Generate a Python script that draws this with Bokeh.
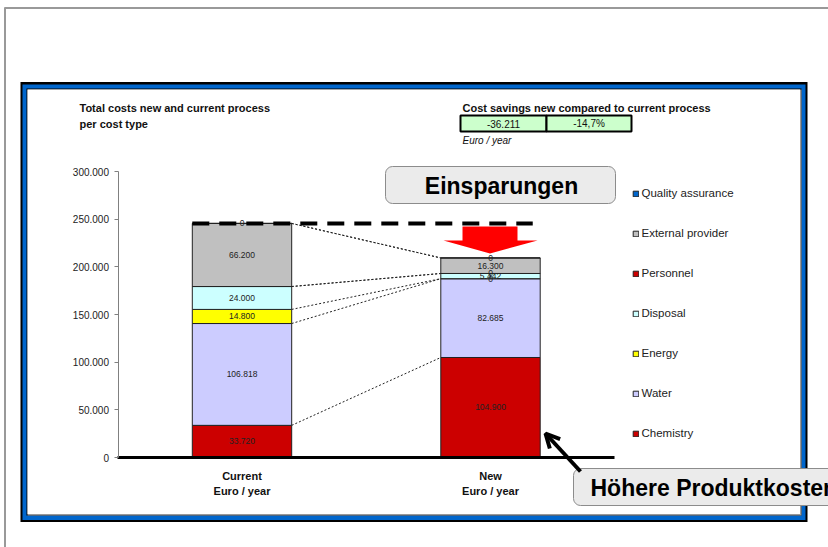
from bokeh.plotting import figure
from bokeh.models import (Range1d, LinearAxis, FixedTicker, Legend, LegendItem,
                          ColumnDataSource, Arrow, OpenHead)
from bokeh.core.properties import value
from bokeh.embed import file_html
from bokeh.resources import INLINE

# ---------------- data ----------------
categories = ["Current", "New"]
category_unit = "Euro / year"
series = ["Chemistry", "Water", "Energy", "Disposal", "Personnel",
          "External provider", "Quality assurance"]
colors = ["#CC0000", "#CCCCFF", "#FFFF00", "#CCFFFF", "#CC0000", "#C0C0C0", "#0066CC"]
current_values = [33720, 106818, 14800, 24000, None, 66200, 0]
new_values = [104900, 82685, 0, 5442, 0, 16300, 0]
y_ticks = [0, 50000, 100000, 150000, 200000, 250000, 300000]
y_tick_labels = ["0", "50.000", "100.000", "150.000", "200.000", "250.000", "300.000"]
chart_title = ["Total costs new and current process", "per cost type"]
savings_title = "Cost savings new compared to current process"
savings_unit = "Euro / year"
callout_savings = "Einsparungen"
callout_costs = "Höhere Produktkosten"

FONT = "Liberation Sans"

# ---------------- layout (picture pixel coordinates) ----------------
W, H = 828, 547
X0, Y0 = 0, 0
BASE_PX, TOP_PX = 457.0, 171.0           # pixel rows of 0 and 300.000
per_px = y_ticks[-1] / (BASE_PX - TOP_PX)
CUR_PX, STEP_PX = 241.5, 248.5           # centre of first bar, distance between bars

p = figure(width=W, height=H, output_backend="svg", toolbar_location=None,
           x_range=Range1d(X0, X0 + W),
           y_range=Range1d(-(Y0 + H - BASE_PX) * per_px, (BASE_PX - Y0) * per_px),
           x_axis_type=None, y_axis_type=None, min_border=0,
           outline_line_color=None, background_fill_color="white",
           border_fill_color="white")
p.extra_y_ranges = {"px": Range1d(Y0 + H, Y0)}
p.extra_x_ranges = {"bars": Range1d((X0 - CUR_PX) / STEP_PX, (X0 + W - CUR_PX) / STEP_PX)}

# outer grey page frame
p.segment(x0=[4.5, 4], y0=[7, 7.5], x1=[4.5, 828], y1=[547, 7.5],
          line_color="#999999", line_width=2, y_range_name="px")

# blue chart frame
p.quad(left=20, right=807, top=81.5, bottom=521.5, fill_color="black", line_color=None, y_range_name="px")
p.quad(left=22, right=805, top=84, bottom=519.5, fill_color="#0066CC", line_color=None, y_range_name="px")
p.quad(left=26, right=801, top=88, bottom=515, fill_color="black", line_color=None, y_range_name="px")
p.quad(left=27, right=801, top=89, bottom=515, fill_color="#999999", line_color=None, y_range_name="px")
p.quad(left=27, right=799.5, top=89, bottom=513.5, fill_color="white", line_color=None, y_range_name="px")

# titles
p.text(x=[79, 79], y=[107, 123], text=chart_title, text_font=value(FONT),
       text_font_size="11px", text_font_style="bold", text_baseline="middle",
       text_color="#111111", y_range_name="px")
p.text(x=[462], y=[107], text=[savings_title], text_font=value(FONT),
       text_font_size="11px", text_font_style="bold", text_baseline="middle",
       text_color="#111111", y_range_name="px")

# savings boxes
total_current = sum(v or 0 for v in current_values)
total_new = sum(v or 0 for v in new_values)
savings = total_new - total_current
pct = savings / total_current * 100
savings_txt = f"{savings:,}".replace(",", ".")
pct_txt = ("-" if pct < 0 else "") + f"{int(abs(pct) * 10) / 10:.1f}".replace(".", ",") + "%"
p.quad(left=[460, 546], right=[546, 631], top=[115, 115], bottom=[131, 131],
       fill_color="#CCFFCC", line_color="black", line_width=2, y_range_name="px")
p.text(x=[503, 588.5], y=[123, 123], text=[savings_txt, pct_txt], text_font=value(FONT),
       text_font_size="10px", text_align="center", text_baseline="middle",
       text_color="#111111", y_range_name="px")
p.text(x=[462], y=[140], text=[savings_unit], text_font=value(FONT),
       text_font_size="10px", text_font_style="italic", text_baseline="middle",
       text_color="#111111", y_range_name="px")

# stacked bars
cols = {"x": list(range(len(categories)))}
for i, s in enumerate(series):
    cols[s] = [current_values[i] or 0, new_values[i] or 0]
src = ColumnDataSource(cols)
renderers = p.vbar_stack(series, x="x", width=0.4, source=src, x_range_name="bars",
                         fill_color=colors, line_color="#222222", line_width=1)

# series connector lines and labels
lx, ly, lt = [], [], []
cum_cur, cum_new = 0, 0
tops_cur, tops_new = [], []
for i, s in enumerate(series):
    vc, vn = current_values[i], new_values[i]
    if vc is not None:
        lx.append(0); ly.append(cum_cur + vc / 2); lt.append(f"{vc:,}".replace(",", "."))
    if vn is not None:
        lx.append(1); ly.append(cum_new + vn / 2); lt.append(f"{vn:,}".replace(",", "."))
    cum_cur += vc or 0
    cum_new += vn or 0
    tops_cur.append(cum_cur)
    tops_new.append(cum_new)

p.segment(x0=[0.2] * len(series), y0=tops_cur, x1=[0.8] * len(series), y1=tops_new,
          x_range_name="bars", line_color="#222222", line_width=1, line_dash="2 2")

# dashed reference line at current total
p.line(x=[-0.2, 1.17], y=[total_current, total_current], x_range_name="bars",
       line_color="black", line_width=4, line_dash="17 10")

p.text(x=lx, y=ly, text=lt, x_range_name="bars", text_font=value(FONT),
       text_font_size="8.5px", text_align="center", text_baseline="middle",
       text_color="#222222")

# red savings arrow
p.patch(x=[462, 517, 517, 537, 489.5, 443, 462], y=[226, 226, 240, 240, 253, 240, 240],
        fill_color="#FF0000", line_color=None, y_range_name="px")

# callout boxes
p.quad(left=[385, 573], right=[615, 900], top=[166, 468], bottom=[203, 505],
       border_radius=7, fill_color="#EBEBEB", line_color="#8C8C8C", line_width=1,
       y_range_name="px")
p.text(x=[501], y=[185], text=[callout_savings], text_font=value(FONT),
       text_font_size="23px", text_font_style="bold", text_align="center",
       text_baseline="middle", text_color="black", y_range_name="px")
p.text(x=[590], y=[487], text=[callout_costs], text_font=value(FONT),
       text_font_size="23px", text_font_style="bold", text_align="left",
       text_baseline="middle", text_color="black", y_range_name="px")
p.add_layout(Arrow(x_start=580, y_start=471, x_end=545, y_end=433, line_width=4,
                   line_color="black", y_range_name="px",
                   end=OpenHead(size=14, line_width=4, line_color="black")))

# axes
yaxis = LinearAxis(fixed_location=117.5, ticker=FixedTicker(ticks=y_ticks),
                   major_label_overrides=dict(zip(y_ticks, y_tick_labels)),
                   bounds=(y_ticks[0], y_ticks[-1]),
                   axis_line_color="#808080", major_tick_line_color="#808080",
                   major_tick_out=4, major_tick_in=0, minor_tick_line_color=None,
                   major_label_standoff=5, major_label_text_font=FONT,
                   major_label_text_font_size="10px", major_label_text_color="#222222")
p.add_layout(yaxis, "left")

xaxis = LinearAxis(x_range_name="bars", fixed_location=0,
                   ticker=FixedTicker(ticks=list(range(len(categories)))),
                   major_label_overrides={i: f"{c}\n{category_unit}" for i, c in enumerate(categories)},
                   bounds=(-0.5, len(categories) - 0.5),
                   axis_line_color="black", axis_line_width=3,
                   major_tick_line_color=None, minor_tick_line_color=None,
                   major_label_standoff=6, major_label_text_font=FONT,
                   major_label_text_font_size="11px", major_label_text_font_style="bold",
                   major_label_text_color="#111111", major_label_text_line_height=1.3)
p.add_layout(xaxis, "below")

# legend (located by its bottom-left corner, measured from the frame's bottom-left)
LEG_TOP, LEG_ITEM, LEG_GAP = 183.0, 20, 20
leg_height = len(series) * LEG_ITEM + (len(series) - 1) * LEG_GAP
items = [LegendItem(label=s, renderers=[r]) for s, r in zip(series, renderers)][::-1]
legend = Legend(items=items, location=(631.5 - X0, Y0 + H - (LEG_TOP + leg_height)),
                orientation="vertical",
                glyph_width=7, glyph_height=7, label_height=LEG_ITEM, spacing=LEG_GAP,
                label_standoff=3, padding=0, margin=0,
                border_line_color=None, background_fill_alpha=0,
                label_text_font=FONT, label_text_font_size="11.5px",
                label_text_color="#222222")
p.add_layout(legend, "center")

open("out.html", "w").write(file_html(p, INLINE))
